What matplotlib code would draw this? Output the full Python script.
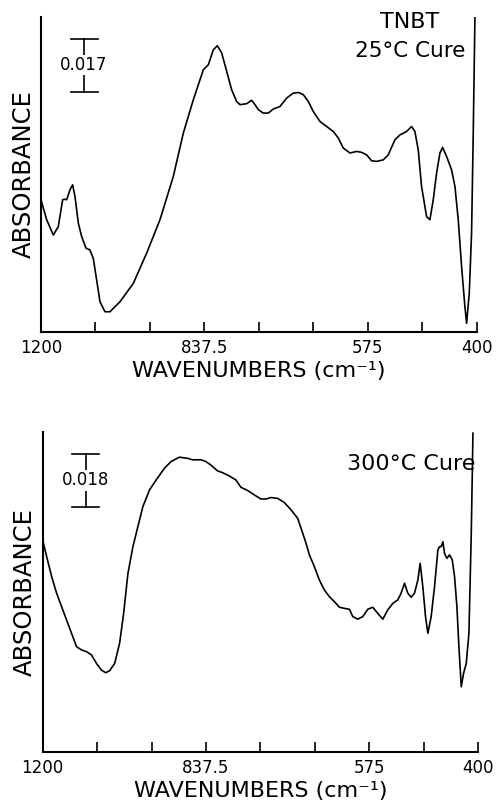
import numpy as np
import matplotlib
matplotlib.use('Agg')
import matplotlib.pyplot as plt

plt.rcParams['font.family'] = ['DejaVu Sans']

# TNBT, 25 C cure (wavenumber cm-1, absorbance)
wn_25 = [1200, 1187.4, 1172.7, 1161.6, 1152.0, 1146.8, 1143.1, 1135.7, 1129.8, 1124.6,
         1117.2, 1109.8, 1100.2, 1091.4, 1084.0, 1076.6, 1069.2, 1058.1, 1047.0, 1024.9,
         995.3, 965.7, 936.2, 906.6, 884.4, 862.2, 840.0, 831.3, 823.3, 816.9,
         809.9, 801.9, 793.9, 785.9, 780.5, 769.8, 761.8, 756.4, 751.1, 743.1,
         735.0, 727.0, 716.3, 705.6, 694.9, 686.8, 678.8, 670.8, 662.8, 652.1,
         641.4, 630.7, 622.7, 614.7, 604.0, 593.3, 585.2, 577.2, 569.2, 561.2,
         550.5, 542.5, 531.8, 523.7, 513.0, 505.0, 499.7, 494.3, 489.0, 480.9,
         475.6, 470.2, 464.9, 459.5, 455.2, 448.8, 440.8, 435.4, 430.1, 424.7,
         419.4, 416.7, 412.4, 408.7, 406.0, 403.3]
abs_25 = [0.0424, 0.0360, 0.0311, 0.0338, 0.0424, 0.0426, 0.0424, 0.0456, 0.0472, 0.0434,
          0.0349, 0.0306, 0.0269, 0.0263, 0.0236, 0.0167, 0.0097, 0.0065, 0.0065, 0.0097,
          0.0156, 0.0253, 0.0360, 0.0499, 0.0638, 0.0745, 0.0841, 0.0857, 0.0905, 0.0918,
          0.0895, 0.0836, 0.0777, 0.0739, 0.0729, 0.0732, 0.0743, 0.0729, 0.0713, 0.0702,
          0.0702, 0.0715, 0.0723, 0.0750, 0.0766, 0.0768, 0.0761, 0.0739, 0.0707, 0.0675,
          0.0659, 0.0643, 0.0622, 0.0590, 0.0574, 0.0579, 0.0576, 0.0568, 0.0549, 0.0547,
          0.0552, 0.0568, 0.0616, 0.0632, 0.0643, 0.0659, 0.0643, 0.0584, 0.0467, 0.0370,
          0.0360, 0.0424, 0.0509, 0.0574, 0.0592, 0.0563, 0.0520, 0.0467, 0.0360, 0.0210,
          0.0081, 0.0028, 0.0124, 0.0317, 0.0638, 0.1010]

# TNBT, 300 C cure
wn_300 = [1200, 1191.2, 1180.1, 1169.1, 1158.0, 1146.9, 1135.9, 1124.8, 1113.8, 1102.7,
          1091.7, 1080.6, 1069.6, 1060.0, 1051.2, 1040.1, 1029.1, 1020.2, 1010.6, 999.6,
          988.5, 977.5, 962.7, 948.0, 929.6, 914.9, 896.5, 878.1, 867.0, 848.6,
          837.5, 829.4, 818.7, 810.7, 800.0, 789.2, 781.2, 770.4, 759.7, 749.0,
          740.9, 732.8, 722.1, 711.4, 700.6, 689.9, 681.8, 676.5, 671.1, 663.1,
          655.0, 647.0, 638.9, 630.8, 622.8, 614.7, 606.7, 601.3, 593.3, 585.2,
          577.2, 569.1, 561.1, 553.0, 545.0, 536.9, 528.9, 523.5, 518.1, 512.8,
          507.4, 502.0, 496.6, 492.9, 488.6, 484.3, 480.5, 475.2, 469.8, 464.4,
          461.7, 459.0, 456.3, 453.7, 449.9, 445.6, 441.3, 437.6, 433.8, 430.6,
          426.8, 423.1, 418.8, 414.5, 410.7, 408.0]
abs_300 = [0.0724, 0.0667, 0.0599, 0.0542, 0.0496, 0.0450, 0.0405, 0.0359, 0.0348, 0.0342,
           0.0331, 0.0302, 0.0279, 0.0270, 0.0277, 0.0302, 0.0371, 0.0473, 0.0610, 0.0701,
           0.0770, 0.0838, 0.0895, 0.0929, 0.0969, 0.0992, 0.1007, 0.1003, 0.0998, 0.0998,
           0.0992, 0.0980, 0.0960, 0.0954, 0.0943, 0.0929, 0.0904, 0.0893, 0.0878, 0.0864,
           0.0864, 0.0869, 0.0866, 0.0852, 0.0827, 0.0798, 0.0747, 0.0713, 0.0673, 0.0633,
           0.0587, 0.0553, 0.0530, 0.0513, 0.0494, 0.0490, 0.0487, 0.0462, 0.0453, 0.0462,
           0.0487, 0.0494, 0.0473, 0.0453, 0.0485, 0.0507, 0.0519, 0.0542, 0.0576, 0.0542,
           0.0528, 0.0542, 0.0587, 0.0644, 0.0564, 0.0462, 0.0405, 0.0462, 0.0564, 0.0690,
           0.0701, 0.0701, 0.0718, 0.0678, 0.0661, 0.0673, 0.0656, 0.0599, 0.0496, 0.0359,
           0.0222, 0.0268, 0.0302, 0.0405, 0.0747, 0.1089]

tick_wn = [1200, 1079.2, 958.3, 837.5, 750, 662.5, 575, 487.5, 400]
tick_lbl = ['1200', '', '', '837.5', '', '', '575', '', '400']

# scale bars: (wavenumber, low, size, label)
bar_25 = (1104.5, 0.0771, 0.017, '0.017')
bar_300 = (1104.2, 0.0838, 0.018, '0.018')


# chart x axis changes scale at 837.5
def fwd(w):
    return np.interp(w, [400, 837.5, 1200], [0, 5, 8])


def inv(p):
    return np.interp(p, [0, 5, 8], [400, 837.5, 1200])


def draw_panel(ax, wn, ab, ylim, bar):
    ax.plot(wn, ab, color='black', lw=1.2)
    ax.set_xscale('function', functions=(fwd, inv))
    ax.set_xlim(1200, 400)
    ax.set_ylim(0, ylim)
    ax.set_xticks(tick_wn)
    ax.set_xticklabels(tick_lbl, fontsize=12)
    ax.tick_params(axis='x', direction='in', length=7, width=1.2, pad=5)
    ax.set_yticks([])
    for s in ['top', 'right']:
        ax.spines[s].set_visible(False)
    for s in ['left', 'bottom']:
        ax.spines[s].set_linewidth(1.5)
    ax.set_xlabel('WAVENUMBERS (cm⁻¹)', fontsize=16, labelpad=3)
    ax.set_ylabel('ABSORBANCE', fontsize=17.5, labelpad=4)

    # absorbance scale bar
    xb, y0, h, txt = bar
    ax.plot([xb, xb], [y0, y0 + h], color='black', lw=1.2)
    for yy in (y0, y0 + h):
        ax.plot([xb + 30, xb - 30], [yy, yy], color='black', lw=1.2)
    ax.text(xb, y0 + h / 2, txt, ha='center', va='center', fontsize=12,
            bbox=dict(facecolor='white', edgecolor='none', pad=1))


fig = plt.figure(figsize=(4.98, 8.02), dpi=100)
ax1 = fig.add_axes([0.0823, 0.586, 0.8755, 0.3928])
ax2 = fig.add_axes([0.0857, 0.0627, 0.874, 0.399])

draw_panel(ax1, wn_25, abs_25, 0.101, bar_25)
draw_panel(ax2, wn_300, abs_300, 0.1094, bar_300)

ax1.text(0.846, 0.985, 'TNBT', transform=ax1.transAxes, ha='center', va='center', fontsize=16)
ax1.text(0.846, 0.892, '25°C Cure', transform=ax1.transAxes, ha='center', va='center', fontsize=15.5)
ax2.text(0.993, 0.899, '300°C Cure', transform=ax2.transAxes, ha='right', va='center', fontsize=16)

fig.savefig('out.png', dpi=100)
